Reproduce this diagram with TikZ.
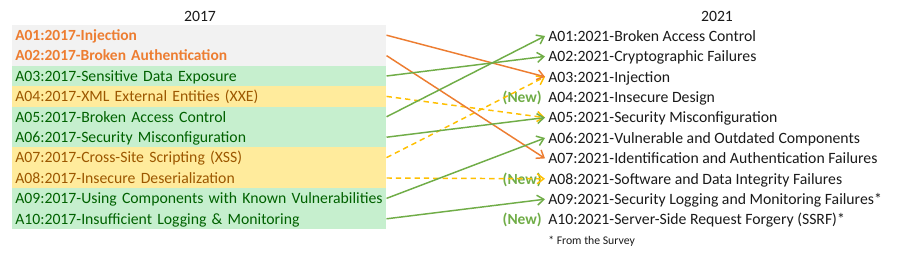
\documentclass[tikz,border=0pt]{standalone}
\usepackage{fontspec}
\setmainfont{Carlito}
\usetikzlibrary{arrows.meta}
\definecolor{orng}{HTML}{ED7D31}
\definecolor{grn}{HTML}{70AD47}
\definecolor{ylw}{HTML}{FFC000}
\definecolor{goodfill}{HTML}{C6EFCE}
\definecolor{goodtext}{HTML}{006100}
\definecolor{neutfill}{HTML}{FFEB9C}
\definecolor{neuttext}{HTML}{9C5700}
\definecolor{grayfill}{HTML}{F2F2F2}
\definecolor{txt}{HTML}{1A1A1A}
\begin{document}
\begin{tikzpicture}[x=0.75pt,y=-0.75pt,
  font=\fontsize{11.8}{13}\selectfont,
  oldrow/.style={anchor=west, minimum height=15.3pt, text width=276pt, inner xsep=2.25pt, inner ysep=0pt, align=left, text height=8.6pt, text depth=0.6pt},
  grayrow/.style={oldrow, fill=grayfill, text=orng, font=\fontsize{11.6}{13}\selectfont\bfseries},
  goodrow/.style={oldrow, fill=goodfill, text=goodtext},
  neutrow/.style={oldrow, fill=neutfill, text=neuttext},
  newrow/.style={anchor=west, inner xsep=2.25pt, inner ysep=0pt, text=txt, text height=8.6pt, text depth=0.6pt},
  newtag/.style={anchor=east, text=grn, inner sep=0pt, font=\fontsize{11.6}{13}\selectfont\bfseries, text height=8.6pt, text depth=0.6pt},
  title/.style={text=txt, inner sep=0pt},
  conn/.style={line width=1.1pt, -{Straight Barb[length=5pt,width=7.5pt]}},
  oconn/.style={conn, draw=orng},
  gconn/.style={conn, draw=grn},
  yconn/.style={conn, draw=ylw, dash pattern=on 4pt off 3pt},
]
\useasboundingbox[fill=white] (0,0) rectangle (904,264);

\node[title] (t17) at (200,16) {2017};
\node[title] (t21) at (717,16) {2021};

\node[grayrow] (o1) at (12,35.2) {A01:2017-Injection};
\node[grayrow] (o2) at (12,55.6) {A02:2017-Broken Authentication};
\node[goodrow] (o3) at (12,76.0) {A03:2017-Sensitive Data Exposure};
\node[neutrow] (o4) at (12,96.4) {A04:2017-XML External Entities (XXE)};
\node[goodrow] (o5) at (12,116.8) {A05:2017-Broken Access Control};
\node[goodrow] (o6) at (12,137.2) {A06:2017-Security Misconfiguration};
\node[neutrow] (o7) at (12,157.6) {A07:2017-Cross-Site Scripting (XSS)};
\node[neutrow] (o8) at (12,178.0) {A08:2017-Insecure Deserialization};
\node[goodrow] (o9) at (12,198.4) {A09:2017-Using Components with Known Vulnerabilities};
\node[goodrow] (o10) at (12,218.8) {A10:2017-Insufficient Logging \& Monitoring};

\node[newrow] (n1) at (545,36) {A01:2021-Broken Access Control};
\node[newrow] (n2) at (545,56.4) {A02:2021-Cryptographic Failures};
\node[newrow] (n3) at (545,76.8) {A03:2021-Injection};
\node[newrow] (n4) at (545,97.2) {A04:2021-Insecure Design};
\node[newrow] (n5) at (545,117.6) {A05:2021-Security Misconfiguration};
\node[newrow] (n6) at (545,138) {A06:2021-Vulnerable and Outdated Components};
\node[newrow] (n7) at (545,158.4) {A07:2021-Identification and Authentication Failures};
\node[newrow] (n8) at (545,178.8) {A08:2021-Software and Data Integrity Failures};
\node[newrow] (n9) at (545,199.2) {A09:2021-Security Logging and Monitoring Failures*};
\node[newrow] (n10) at (545,219.6) {A10:2021-Server-Side Request Forgery (SSRF)*};
\node[anchor=west, inner sep=0pt, text=txt, font=\fontsize{8.8}{10}\selectfont] (fn) at (548,241) {* From the Survey};

\node[newtag] (new4) at (542,97.2) {(New)};
\node[newtag] (new8) at (542,178.8) {(New)};
\node[newtag] (new10) at (542,219.6) {(New)};

\draw[yconn] (o4.east) -- (n5.west);
\draw[yconn] (o7.east) -- (n3.west);
\draw[yconn] (o8.east) -- (n8.west);
\draw[oconn] (o1.east) -- (n3.west);
\draw[oconn] (o2.east) -- (n7.west);
\draw[gconn] (o3.east) -- (n2.west);
\draw[gconn] (o5.east) -- (n1.west);
\draw[gconn] (o6.east) -- (n5.west);
\draw[gconn] (o9.east) -- (n6.west);
\draw[gconn] (o10.east) -- (n9.west);
\end{tikzpicture}
\end{document}
